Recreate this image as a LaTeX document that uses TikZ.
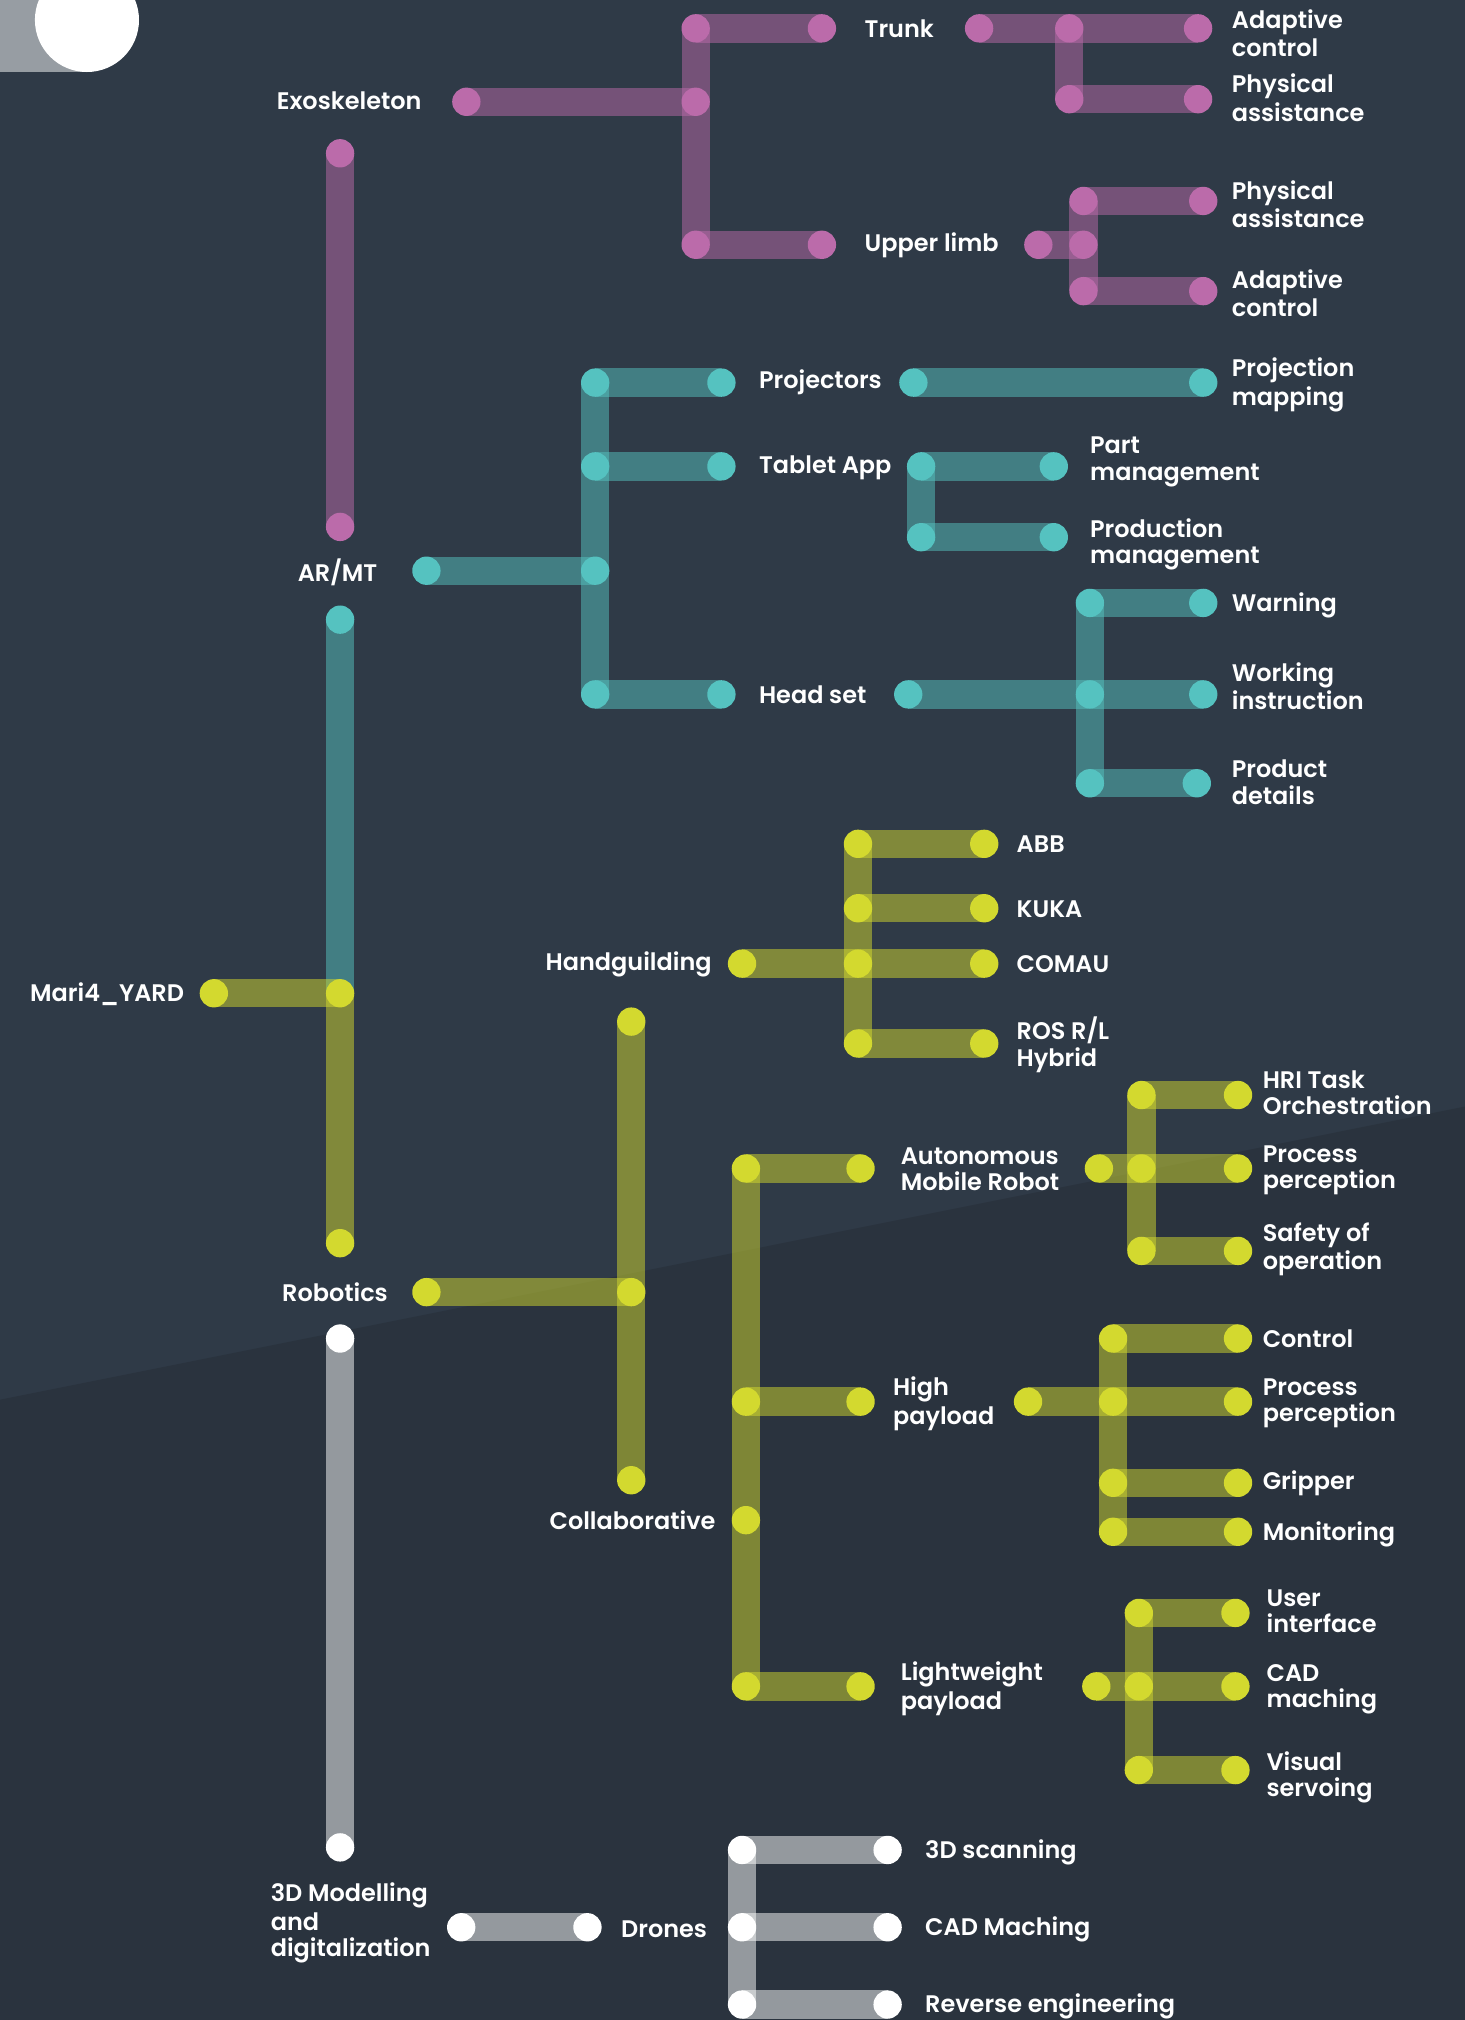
\documentclass[tikz,border=0pt]{standalone}
\usepackage{fontspec}
\setmainfont{Poppins SemiBold}
\definecolor{bgtop}{HTML}{2F3A47}
\definecolor{bgbot}{HTML}{2A333E}
\definecolor{pinkc}{HTML}{BB6BAA}
\definecolor{tealc}{HTML}{55C2C0}
\definecolor{yelc}{HTML}{D3D92F}
\definecolor{greyc}{HTML}{FFFFFF}
\definecolor{greybar}{HTML}{979DA3}
\newcommand\lstr{\rule[-2pt]{0pt}{18pt}}
\newcommand\twol[2]{\lstr #1\\\lstr #2}
\tikzset{
  bar/.style={line width=22pt, line cap=butt, draw opacity=0.5},
  barP/.style={bar, draw=pinkc},
  barT/.style={bar, draw=tealc},
  barY/.style={bar, draw=yelc},
  barG/.style={bar, draw=greyc},
  dotbase/.style={circle, inner sep=0pt, minimum size=22pt, draw=none},
  dotP/.style={dotbase, fill=pinkc},
  dotT/.style={dotbase, fill=tealc},
  dotY/.style={dotbase, fill=yelc},
  dotG/.style={dotbase, fill=greyc},
  lbl/.style={text=white, inner sep=0pt, align=left, font=\fontsize{18.6}{20.3}\selectfont},
  lblw/.style={lbl, anchor=west},
  lblc/.style={lbl, anchor=center},
  lble/.style={lbl, anchor=east},
}
\begin{document}
\begin{tikzpicture}[x=1pt,y=-1pt]
\useasboundingbox (0,0) rectangle (1137,1568);
\begin{scope}
\clip (0,0) rectangle (1137,1568);
\fill[bgtop] (0,0) rectangle (1137,1568);
\fill[bgbot] (0,1086.5) -- (1137,859) -- (1137,1568) -- (0,1568) -- cycle;
\fill[greybar] (0,0) rectangle (67.5,56);
\fill[white] (67.5,15.5) circle (40.4pt);
\end{scope}

% ---------- coordinates ----------
\foreach \n/\x/\y in {pE/362/79, pEj/540/79, pT0/540/22, pT1/638/22, pU0/540/190, pU1/638/190,
  pTa/760/22, pTb/830/22, pTc/930/22, pTd/830/77, pTe/930/77,
  pUa/806/190, pUb/841/190, pUc/841/156, pUd/934/156, pUe/841/226, pUf/934/226,
  pV0/264/119, pV1/264/409,
  tA/331/443, tAj/462/443, tP0/462/297, tP1/560/297, tT0/462/362, tT1/560/362, tH0/462/539, tH1/560/539,
  tPa/709/297, tPb/934/297,
  tTa/715/362, tTb/818/362, tTc/715/417, tTd/818/417,
  tHa/705/539, tHb/846/539, tHc/934/539, tHd/846/468, tHe/934/468, tHf/846/608, tHg/929/608,
  tV0/264/481, tV1/264/771,
  yM/166/771, yMj/264/771, yV1/264/965,
  yR/331/1003, yRj/490/1003, yC0/490/793, yC1/490/1149,
  yHa/576/748, yHb/666/748, yHc/764/748, yHd/666/655, yHe/764/655, yHf/666/705, yHg/764/705, yHh/666/810, yHi/764/810,
  yL0/579/907, yL1/579/1088, yL2/579/1180, yL3/579/1309, yA1/668/907, yB1/668/1088, yD1/668/1309,
  yAa/853/907, yAb/886/907, yAc/961/907, yAd/886/850, yAe/961/850, yAf/886/971, yAg/961/971,
  yBa/798/1088, yBb/864/1088, yBc/961/1088, yBd/864/1039, yBe/961/1039, yBf/864/1151, yBg/961/1151, yBh/864/1189, yBi/961/1189,
  yDa/851/1309, yDb/884/1309, yDc/959/1309, yDd/884/1252, yDe/959/1252, yDf/884/1374, yDg/959/1374,
  gV0/264/1039, gV1/264/1434, gD0/358/1496, gD1/456/1496,
  gS0/576/1436, gS1/689/1436, gM0/576/1496, gM1/689/1496, gR0/576/1556, gR1/689/1556}
  \coordinate (\n) at (\x,\y);

% ---------- bars ----------
\foreach \a/\b in {pE/pEj, pT0/pU0, pT0/pT1, pU0/pU1, pTa/pTc, pTb/pTd, pTd/pTe, pUa/pUb, pUc/pUe, pUc/pUd, pUe/pUf, pV0/pV1}
  \draw[barP] (\a) -- (\b);
\foreach \a/\b in {tA/tAj, tP0/tH0, tP0/tP1, tT0/tT1, tH0/tH1, tPa/tPb, tTa/tTc, tTa/tTb, tTc/tTd, tHa/tHc, tHd/tHf, tHd/tHe, tHf/tHg, tV0/tV1}
  \draw[barT] (\a) -- (\b);
\foreach \a/\b in {yM/yMj, yMj/yV1, yR/yRj, yC0/yC1, yHa/yHc, yHd/yHh, yHd/yHe, yHf/yHg, yHh/yHi, yL0/yL3, yL0/yA1, yL1/yB1, yL3/yD1,
  yAa/yAc, yAd/yAf, yAd/yAe, yAf/yAg, yBa/yBc, yBd/yBh, yBd/yBe, yBf/yBg, yBh/yBi, yDa/yDc, yDd/yDf, yDd/yDe, yDf/yDg}
  \draw[barY] (\a) -- (\b);
\foreach \a/\b in {gV0/gV1, gD0/gD1, gS0/gR0, gS0/gS1, gM0/gM1, gR0/gR1}
  \draw[barG] (\a) -- (\b);

% ---------- dots ----------
\foreach \n in {pE, pEj, pT0, pT1, pU0, pU1, pTa, pTb, pTc, pTd, pTe, pUa, pUb, pUc, pUd, pUe, pUf, pV0, pV1}
  \node[dotP] (d\n) at (\n) {};
\foreach \n in {tA, tAj, tP0, tP1, tT0, tT1, tH0, tH1, tPa, tPb, tTa, tTb, tTc, tTd, tHa, tHb, tHc, tHd, tHe, tHf, tHg, tV0}
  \node[dotT] (d\n) at (\n) {};
\foreach \n in {yM, yMj, yV1, yR, yRj, yC0, yC1, yHa, yHb, yHc, yHd, yHe, yHf, yHg, yHh, yHi, yL0, yL1, yL2, yL3, yA1, yB1, yD1,
  yAa, yAb, yAc, yAd, yAe, yAf, yAg, yBa, yBb, yBc, yBd, yBe, yBf, yBg, yBh, yBi, yDa, yDb, yDc, yDd, yDe, yDf, yDg}
  \node[dotY] (d\n) at (\n) {};
\foreach \n in {gV0, gV1, gD0, gD1, gS0, gS1, gM0, gM1, gR0, gR1}
  \node[dotG] (d\n) at (\n) {};

% ---------- labels ----------
\node[lblc] (lExo) at (271,78) {\lstr Exoskeleton};
\node[lblw] (lTrunk) at (671,22) {\lstr Trunk};
\node[lblw] (lUpper) at (671,190) {\lstr Upper limb};
\node[lblw] (lAc1) at (956,26) {\twol{Adaptive}{control}};
\node[lblw] (lPa1) at (956,76) {\twol{Physical}{assistance}};
\node[lblw] (lPa2) at (956,159) {\twol{Physical}{assistance}};
\node[lblw] (lAc2) at (956,228) {\twol{Adaptive}{control}};

\node[lblc] (lAR) at (262,444) {\lstr AR/MT};
\node[lblw] (lProj) at (589,296) {\lstr Projectors};
\node[lblw] (lTab) at (589,362) {\lstr Tablet App};
\node[lblw] (lHead) at (589,539) {\lstr Head set};
\node[lblw] (lPm) at (956,298) {\twol{Projection}{mapping}};
\node[lblw] (lPart) at (846,357) {\twol{Part}{management}};
\node[lblw] (lProd) at (846,422) {\twol{Production}{management}};
\node[lblw] (lWarn) at (956,469) {\lstr Warning};
\node[lblw] (lWork) at (956,533) {\twol{Working}{instruction}};
\node[lblw] (lPd) at (956,607) {\twol{Product}{details}};

\node[lble] (lMari) at (143,771) {\lstr Mari4\_YARD};
\node[lblc] (lHand) at (488,748) {\lstr Handguilding};
\node[lblw] (lABB) at (789,655) {\lstr ABB};
\node[lblw] (lKUKA) at (789,705) {\lstr KUKA};
\node[lblw] (lCOMAU) at (789,748) {\lstr COMAU};
\node[lblw] (lROS) at (789,811) {\twol{ROS R/L}{Hybrid}};
\node[lblc] (lRob) at (260,1003) {\lstr Robotics};
\node[lblc] (lColl) at (491,1180) {\lstr Collaborative};
\node[lblw] (lAMR) at (699,907) {\twol{Autonomous}{Mobile Robot}};
\node[lblw] (lHigh) at (693,1089) {\twol{High}{payload}};
\node[lblw] (lLight) at (699,1310) {\twol{Lightweight}{payload}};
\node[lblw] (lHRI) at (980,848) {\twol{HRI Task}{Orchestration}};
\node[lblw] (lPp1) at (980,907) {\twol{Process}{perception}};
\node[lblw] (lSafe) at (980,969) {\twol{Safety of}{operation}};
\node[lblw] (lCtrl) at (980,1039) {\lstr Control};
\node[lblw] (lPp2) at (980,1088) {\twol{Process}{perception}};
\node[lblw] (lGrip) at (980,1151) {\lstr Gripper};
\node[lblw] (lMon) at (980,1190) {\lstr Monitoring};
\node[lblw] (lUser) at (983,1250) {\twol{User}{interface}};
\node[lblw] (lCad1) at (983,1310) {\twol{CAD}{maching}};
\node[lblw] (lVis) at (983,1379) {\twol{Visual}{servoing}};

\node[lblw] (l3D) at (210,1492) {\lstr 3D Modelling\\\lstr and\\\lstr digitalization};
\node[lblw] (lDrones) at (482,1497) {\lstr Drones};
\node[lblw] (lScan) at (718,1437) {\lstr 3D scanning};
\node[lblw] (lCad2) at (718,1497) {\lstr CAD Maching};
\node[lblw] (lRev) at (718,1557) {\lstr Reverse engineering};
\end{tikzpicture}
\end{document}
